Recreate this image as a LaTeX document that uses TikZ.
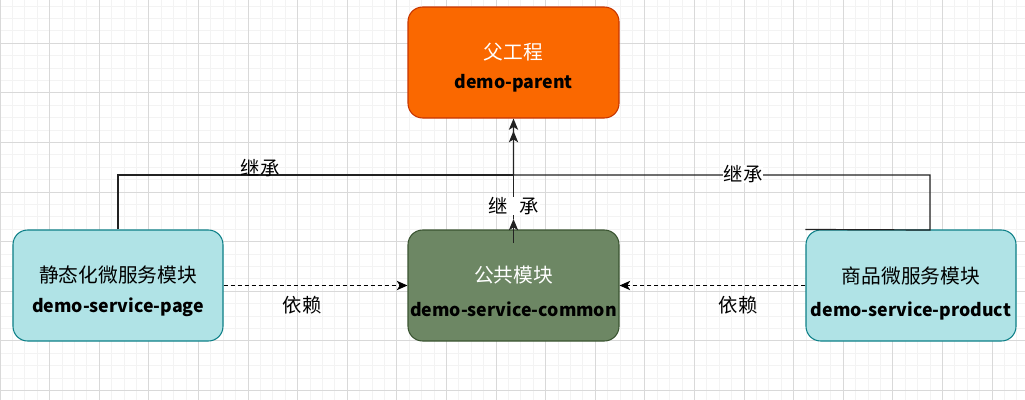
\documentclass[tikz,border=0pt]{standalone}
\usepackage{fontspec}
\setmainfont{Noto Sans CJK SC}
\usetikzlibrary{arrows.meta}
\definecolor{orangefill}{HTML}{FA6800}
\definecolor{orangeline}{HTML}{C73500}
\definecolor{greenfill}{HTML}{6D8764}
\definecolor{greenline}{HTML}{3A5431}
\definecolor{cyanfill}{HTML}{B0E3E6}
\definecolor{cyanline}{HTML}{0E8088}
\definecolor{minorgrid}{HTML}{F3F3F3}
\definecolor{majorgrid}{HTML}{D9D9D9}
\definecolor{connline}{HTML}{222222}
\tikzset{
  boxbase/.style={draw, line width=0.8pt, rounded corners=11pt, minimum height=83.25pt, inner sep=0pt},
  parentbox/.style={boxbase, fill=orangefill, draw=orangeline, minimum width=158.25pt},
  commonbox/.style={boxbase, fill=greenfill, draw=greenline, minimum width=158.25pt},
  sidebox/.style={boxbase, fill=cyanfill, draw=cyanline, minimum width=157.5pt},
  cntext/.style={font=\fontsize{14.8pt}{16pt}\selectfont, inner sep=0pt},
  entext/.style={font=\fontsize{13.3pt}{16pt}\selectfont\bfseries, inner sep=0pt},
  lbl/.style={font=\fontsize{14.5pt}{16pt}\selectfont, inner sep=0.5pt},
  arr/.style={draw=connline, line width=0.9pt, -{Stealth[length=8.5pt,width=7pt,inset=2.2pt]}},
  plainline/.style={draw=connline, line width=0.9pt},
  dasharr/.style={draw=black, line width=0.9pt, dash pattern=on 3pt off 2.25pt, -{Stealth[length=8pt,width=7pt,inset=2.2pt]}},
}
\begin{document}
\begin{tikzpicture}[x=0.75pt,y=-0.75pt]
\useasboundingbox (0,0) rectangle (1025,400);
\clip (0,0) rectangle (1025,400);
\fill[white] (0,0) rectangle (1025,400);
% grid
\foreach \i in {0,...,83} {\draw[minorgrid, line width=0.75pt] (\i*12.4,0) -- (\i*12.4,400);}
\foreach \j in {0,...,33} {\draw[minorgrid, line width=0.75pt] (0,-6.3+\j*12.4) -- (1025,-6.3+\j*12.4);}
\foreach \i in {0,...,20} {\draw[majorgrid, line width=0.75pt] (\i*49.6,0) -- (\i*49.6,400);}
\foreach \j in {0,...,8} {\draw[majorgrid, line width=0.75pt] (0,-6.3+\j*49.6) -- (1025,-6.3+\j*49.6);}

% boxes
\node[parentbox] (parent) at (513.5,62.5) {};
\node[commonbox] (common) at (513.5,285.5) {};
\node[sidebox] (left) at (118,285.5) {};
\node[sidebox] (right) at (911,285.5) {};

% texts
\node[cntext, text=white] (parentcn) at (513.5,52) {父工程};
\node[entext] (parenten) at (513.5,83) {demo-parent};
\node[cntext, text=white] (commoncn) at (513.5,275) {公共模块};
\node[entext] (commonen) at (513.5,309) {demo-service-common};
\node[cntext] (leftcn) at (118,275) {静态化微服务模块};
\node[entext] (leften) at (118,307) {demo-service-page};
\node[cntext] (rightcn) at (911,276) {商品微服务模块};
\node[entext] (righten) at (911,311) {demo-service-product};

% connector coordinates
\coordinate (hub) at (513.5,175);
\coordinate (leftcorner) at (118,175);
\coordinate (rightcorner) at (930,175);
\coordinate (rightfoot) at (930,230);
\coordinate (commonstart) at (513.5,243);
\coordinate (commontip) at (513.5,219);
\coordinate (secondtip) at (513.5,131);

% inheritance connectors
\draw[arr] (left.north) -- (leftcorner) -- (hub) -- (secondtip);
\draw[arr] (right.north west) -- (rightfoot) -- (rightcorner) -- (hub) -- (parent.south);
\draw[arr] (commonstart) -- (commontip);
\draw[plainline] (commontip) -- (hub);

% labels on inheritance
\node[lbl, fill=white] (midlbl) at (513.5,206) {继\hspace{9pt}承};
\node[lbl] (leftlbl) at (260,168) {继承};
\node[lbl, fill=white] (rightlbl) at (743,174) {继承};

% dependency connectors
\draw[dasharr] (left.east) -- (common.west);
\draw[dasharr] (right.west) -- (common.east);
\node[lbl] (leftdep) at (302,305) {依赖};
\node[lbl] (rightdep) at (738,305) {依赖};
\end{tikzpicture}
\end{document}
